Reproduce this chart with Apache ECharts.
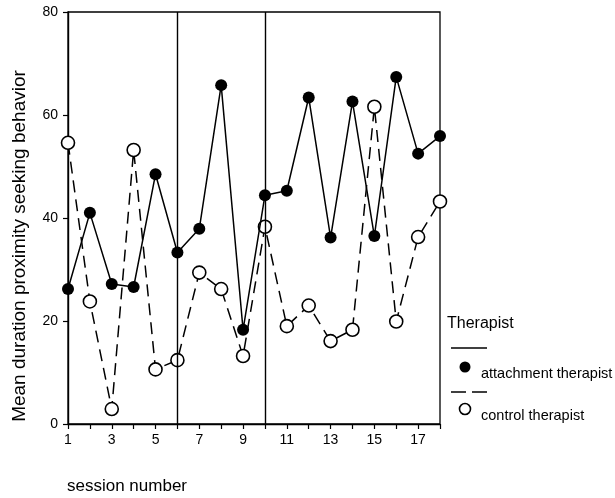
<!DOCTYPE html>
<html>
<head>
<meta charset="utf-8">
<script src="https://cdn.jsdelivr.net/npm/echarts@6/dist/echarts.min.js"></script>
<style>
  html, body { margin: 0; padding: 0; background: #fff; }
  #chart { width: 615px; height: 498px; }
</style>
</head>
<body>
<div id="chart"></div>
<script>
const sessions = [1, 2, 3, 4, 5, 6, 7, 8, 9, 10, 11, 12, 13, 14, 15, 16, 17, 18];
const attachment = [26.2, 41, 27.2, 26.6, 48.5, 33.3, 37.9, 65.8, 18.3, 44.4, 45.3, 63.4, 36.2, 62.6, 36.5, 67.4, 52.5, 55.9];
const control = [54.6, 23.8, 2.9, 53.2, 10.6, 12.4, 29.4, 26.2, 13.2, 38.3, 19, 23, 16.1, 18.3, 61.6, 19.9, 36.3, 43.2];
const phaseChanges = [6, 10];
const yTicks = [0, 20, 40, 60, 80];

const font = "'Liberation Sans', Arial, sans-serif";

let pairs = vals => sessions.map((s, i) => [s, vals[i]]);

let initChart = option => {
    const chart = echarts.init(document.querySelector("#chart"), null, { renderer: "canvas" });
    chart.setOption(option);
    return chart;
};

let option = {
    animation: false,
    backgroundColor: "#fff",
    grid: {
        left: 68, right: 175, top: 12, bottom: 74,
        show: true, borderColor: "#000", borderWidth: 1.3
    },
    xAxis: {
        type: "value",
        min: 1, max: 18, interval: 1,
        axisLine: { lineStyle: { color: "#000", width: 1.4 } },
        axisTick: { length: 5, lineStyle: { color: "#000", width: 1.2 } },
        splitLine: { show: false },
        axisLabel: {
            color: "#000", fontSize: 14, fontFamily: font, margin: 9,
            formatter: v => (v % 2 === 1 ? String(v) : "")
        }
    },
    yAxis: {
        type: "value",
        min: yTicks[0], max: yTicks[yTicks.length - 1], interval: 20,
        axisLine: { show: true, lineStyle: { color: "#000", width: 1.4 } },
        axisTick: { show: true, length: 5, lineStyle: { color: "#000", width: 1.2 } },
        splitLine: { show: false },
        axisLabel: { color: "#000", fontSize: 14, fontFamily: font, margin: 10 }
    },
    series: [
        {
            name: "control therapist",
            type: "line",
            data: pairs(control),
            symbol: "circle", symbolSize: 13,
            itemStyle: { color: "#fff", borderColor: "#000", borderWidth: 1.6 },
            lineStyle: { color: "#000", width: 1.5, type: [12, 7] },
            z: 3
        },
        {
            name: "attachment therapist",
            type: "line",
            data: pairs(attachment),
            symbol: "circle", symbolSize: 12,
            itemStyle: { color: "#000", borderColor: "#000", borderWidth: 0 },
            lineStyle: { color: "#000", width: 1.5 },
            z: 4,
            markLine: {
                silent: true, symbol: "none", label: { show: false },
                lineStyle: { color: "#000", width: 1.4, type: "solid" },
                data: phaseChanges.map(x => ({ xAxis: x }))
            }
        }
    ],
    graphic: [
        {
            type: "text", x: 20, y: 246, rotation: Math.PI / 2,
            style: {
                text: "Mean duration proximity seeking behavior",
                fontSize: 19, fontFamily: font, fill: "#000",
                align: "center", verticalAlign: "middle"
            }
        },
        { type: "text", left: 67, top: 478, style: { text: "session number", fontSize: 17, fontFamily: font, fill: "#000" } },
        { type: "text", left: 447, top: 316, style: { text: "Therapist", fontSize: 16, fontFamily: font, fill: "#000" } },
        { type: "line", shape: { x1: 451, y1: 348, x2: 487, y2: 348 }, style: { stroke: "#000", lineWidth: 1.4 } },
        { type: "circle", shape: { cx: 465, cy: 367, r: 5.5 }, style: { fill: "#000" } },
        { type: "text", left: 481, top: 366, style: { text: "attachment therapist", fontSize: 14.5, fontFamily: font, fill: "#000" } },
        { type: "line", shape: { x1: 451, y1: 392, x2: 488, y2: 392 }, style: { stroke: "#000", lineWidth: 1.4, lineDash: [15, 6] } },
        { type: "circle", shape: { cx: 465, cy: 409, r: 5.5 }, style: { fill: "#fff", stroke: "#000", lineWidth: 1.6 } },
        { type: "text", left: 481, top: 408, style: { text: "control therapist", fontSize: 14.5, fontFamily: font, fill: "#000" } }
    ]
};

initChart(option);
</script>
</body>
</html>
